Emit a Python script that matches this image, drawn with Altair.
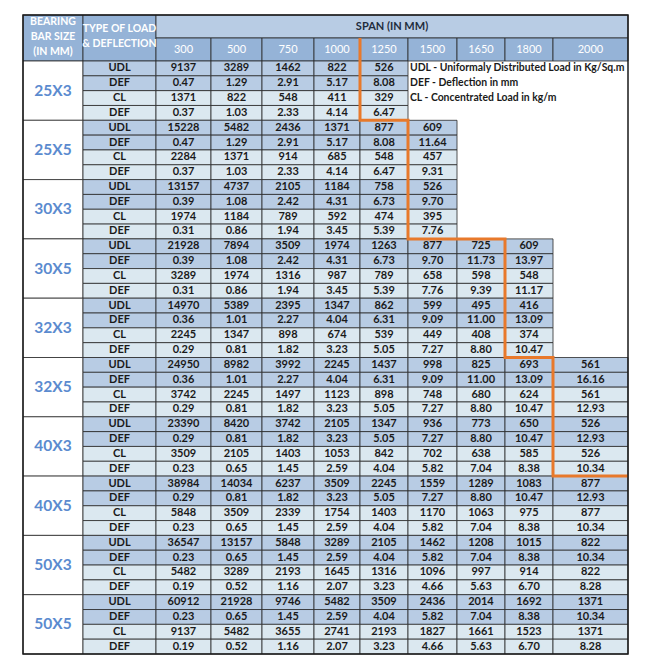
import altair as alt
import pandas as pd

# ---------------- data ----------------
spans = ["300", "500", "750", "1000", "1250", "1500", "1650", "1800", "2000"]
bar_sizes = ["25X3", "25X5", "30X3", "30X5", "32X3", "32X5", "40X3", "40X5", "50X3", "50X5"]
load_types = ["UDL", "DEF", "CL", "DEF"]

v_25x3 = [
    [9137, 3289, 1462, 822, 526],
    [0.47, 1.29, 2.91, 5.17, 8.08],
    [1371, 822, 548, 411, 329],
    [0.37, 1.03, 2.33, 4.14, 6.47],
]
v_25x5 = [
    [15228, 5482, 2436, 1371, 877, 609],
    [0.47, 1.29, 2.91, 5.17, 8.08, 11.64],
    [2284, 1371, 914, 685, 548, 457],
    [0.37, 1.03, 2.33, 4.14, 6.47, 9.31],
]
v_30x3 = [
    [13157, 4737, 2105, 1184, 758, 526],
    [0.39, 1.08, 2.42, 4.31, 6.73, 9.70],
    [1974, 1184, 789, 592, 474, 395],
    [0.31, 0.86, 1.94, 3.45, 5.39, 7.76],
]
v_30x5 = [
    [21928, 7894, 3509, 1974, 1263, 877, 725, 609],
    [0.39, 1.08, 2.42, 4.31, 6.73, 9.70, 11.73, 13.97],
    [3289, 1974, 1316, 987, 789, 658, 598, 548],
    [0.31, 0.86, 1.94, 3.45, 5.39, 7.76, 9.39, 11.17],
]
v_32x3 = [
    [14970, 5389, 2395, 1347, 862, 599, 495, 416],
    [0.36, 1.01, 2.27, 4.04, 6.31, 9.09, 11.00, 13.09],
    [2245, 1347, 898, 674, 539, 449, 408, 374],
    [0.29, 0.81, 1.82, 3.23, 5.05, 7.27, 8.80, 10.47],
]
v_32x5 = [
    [24950, 8982, 3992, 2245, 1437, 998, 825, 693, 561],
    [0.36, 1.01, 2.27, 4.04, 6.31, 9.09, 11.00, 13.09, 16.16],
    [3742, 2245, 1497, 1123, 898, 748, 680, 624, 561],
    [0.29, 0.81, 1.82, 3.23, 5.05, 7.27, 8.80, 10.47, 12.93],
]
v_40x3 = [
    [23390, 8420, 3742, 2105, 1347, 936, 773, 650, 526],
    [0.29, 0.81, 1.82, 3.23, 5.05, 7.27, 8.80, 10.47, 12.93],
    [3509, 2105, 1403, 1053, 842, 702, 638, 585, 526],
    [0.23, 0.65, 1.45, 2.59, 4.04, 5.82, 7.04, 8.38, 10.34],
]
v_40x5 = [
    [38984, 14034, 6237, 3509, 2245, 1559, 1289, 1083, 877],
    [0.29, 0.81, 1.82, 3.23, 5.05, 7.27, 8.80, 10.47, 12.93],
    [5848, 3509, 2339, 1754, 1403, 1170, 1063, 975, 877],
    [0.23, 0.65, 1.45, 2.59, 4.04, 5.82, 7.04, 8.38, 10.34],
]
v_50x3 = [
    [36547, 13157, 5848, 3289, 2105, 1462, 1208, 1015, 822],
    [0.23, 0.65, 1.45, 2.59, 4.04, 5.82, 7.04, 8.38, 10.34],
    [5482, 3289, 2193, 1645, 1316, 1096, 997, 914, 822],
    [0.19, 0.52, 1.16, 2.07, 3.23, 4.66, 5.63, 6.70, 8.28],
]
v_50x5 = [
    [60912, 21928, 9746, 5482, 3509, 2436, 2014, 1692, 1371],
    [0.23, 0.65, 1.45, 2.59, 4.04, 5.82, 7.04, 8.38, 10.34],
    [9137, 5482, 3655, 2741, 2193, 1827, 1661, 1523, 1371],
    [0.19, 0.52, 1.16, 2.07, 3.23, 4.66, 5.63, 6.70, 8.28],
]
group_values = [v_25x3, v_25x5, v_30x3, v_30x5, v_32x3,
                v_32x5, v_40x3, v_40x5, v_50x3, v_50x5]

# span at which the orange limit line sits (left edge) for the first groups
limit_span = ["1250", "1500", "1500", "1800", "1800", "2000", "2000"]

notes = [
    "UDL - Uniformaly Distributed Load in Kg/Sq.m",
    "DEF - Deflection in mm",
    "CL - Concentrated Load in kg/m",
]
bearing_head = ["BEARING", "BAR SIZE", "(IN MM)"]
type_head = ["TYPE OF LOAD", "& DEFLECTION"]
span_head = "SPAN (IN MM)"

# ---------------- layout ----------------
col_widths = [60, 73, 55, 51, 52, 46, 48, 49, 48, 48, 75]
head_h = 23
row_h = 14.825
FONT = "Lato"

xe = [0]
for w in col_widths:
    xe.append(xe[-1] + w)
W = xe[-1]
body_top = 2 * head_h
H = body_top + 4 * len(bar_sizes) * row_h

C_HEAD = "#95b3d7"
C_HEAD_L = "#b8cce4"
C_ROW_A = "#b8cce4"
C_ROW_B = "#dbe8f0"


def row_y(g, r):
    return body_top + (4 * g + r) * row_h


cells, vals, types, sizes = [], [], [], []
# header cells
cells.append(dict(x=xe[0], x2=xe[1], y=0, y2=body_top, fill=C_HEAD))
cells.append(dict(x=xe[1], x2=xe[2], y=0, y2=body_top, fill=C_HEAD))
cells.append(dict(x=xe[2], x2=xe[-1], y=0, y2=head_h, fill=C_HEAD_L))
span_lbl = []
for c, s in enumerate(spans):
    cells.append(dict(x=xe[2 + c], x2=xe[3 + c], y=head_h, y2=body_top, fill=C_HEAD))
    span_lbl.append(dict(x=(xe[2 + c] + xe[3 + c]) / 2, y=head_h * 1.5, text=s))

for g, (bs, gv) in enumerate(zip(bar_sizes, group_values)):
    cells.append(dict(x=xe[0], x2=xe[1], y=row_y(g, 0), y2=row_y(g, 4), fill="#ffffff"))
    sizes.append(dict(x=(xe[0] + xe[1]) / 2, y=(row_y(g, 0) + row_y(g, 4)) / 2, text=bs))
    for r, (lt, rv) in enumerate(zip(load_types, gv)):
        fill = C_ROW_A if r < 2 else C_ROW_B
        y0, y1 = row_y(g, r), row_y(g, r + 1)
        cells.append(dict(x=xe[1], x2=xe[2], y=y0, y2=y1, fill=fill))
        types.append(dict(x=(xe[1] + xe[2]) / 2, y=(y0 + y1) / 2, text=lt))
        for c, v in enumerate(rv):
            cells.append(dict(x=xe[2 + c], x2=xe[3 + c], y=y0, y2=y1, fill=fill))
            txt = f"{v:.2f}" if lt == "DEF" else f"{int(v)}"
            vals.append(dict(x=(xe[2 + c] + xe[3 + c]) / 2, y=(y0 + y1) / 2, text=txt))

note_rows = [dict(x=xe[2 + spans.index("1500")] + 2, y=(row_y(0, i) + row_y(0, i + 1)) / 2, text=t)
             for i, t in enumerate(notes)]

# header text lines
head_rows = []
for i, t in enumerate(bearing_head):
    head_rows.append(dict(x=(xe[0] + xe[1]) / 2, y=7 + i * 14.8, text=t))
for i, t in enumerate(type_head):
    head_rows.append(dict(x=(xe[1] + xe[2]) / 2, y=14 + i * 14.5, text=t))

# orange staircase path
path = []
x_first = xe[2 + spans.index(limit_span[0])]
path.append((x_first, head_h))
for g, ls in enumerate(limit_span):
    xl = xe[2 + spans.index(ls)]
    path.append((xl, row_y(g, 0)))
    path.append((xl, row_y(g, 4)))
path.append((W, row_y(len(limit_span) - 1, 4)))
path_df = pd.DataFrame([dict(x=p[0], y=p[1], o=i) for i, p in enumerate(path)])

xs = alt.Scale(domain=[0, W])
ys = alt.Scale(domain=[0, H], reverse=True)
X = lambda f="x": alt.X(f"{f}:Q", scale=xs, axis=None)
Y = lambda f="y": alt.Y(f"{f}:Q", scale=ys, axis=None)

cell_layer = alt.Chart(pd.DataFrame(cells)).mark_rect(
    stroke="#2a2a2a", strokeWidth=0.8
).encode(x=X(), x2="x2:Q", y=Y(), y2="y2:Q", fill=alt.Fill("fill:N", scale=None))


def text_layer(rows, **kw):
    return alt.Chart(pd.DataFrame(rows)).mark_text(font=FONT, baseline="middle", **kw).encode(
        x=X(), y=Y(), text="text:N")


val_layer = text_layer(vals, fontSize=11, fontWeight="bold", color="#1a1a1a")
type_layer = text_layer(types, fontSize=11, fontWeight="bold", color="#1a1a1a")
size_layer = text_layer(sizes, fontSize=15.5, fontWeight="bold", color="#5b8bcf")
span_layer = text_layer(span_lbl, fontSize=11, color="#ffffff")
note_layer = text_layer(note_rows, fontSize=10.4, fontWeight="bold", color="#1a1a1a", align="left")
head_layer = text_layer(head_rows, fontSize=10.5, fontWeight="bold", color="#ffffff")
span_title = text_layer([dict(x=(xe[2] + W) / 2, y=head_h / 2, text=span_head)],
                        fontSize=11, fontWeight="bold", color="#1f2d3d")

line_layer = alt.Chart(path_df).mark_line(color="#e8792b", strokeWidth=3).encode(
    x=X(), y=Y(), order="o:Q")

frame = alt.Chart(pd.DataFrame([dict(x=0, x2=W, y=0, y2=H)])).mark_rect(
    fill=None, stroke="#1a1a1a", strokeWidth=1.5
).encode(x=X(), x2="x2:Q", y=Y(), y2="y2:Q")

chart = alt.layer(
    cell_layer, val_layer, type_layer, size_layer, span_layer, note_layer,
    head_layer, span_title, line_layer, frame
).properties(
    width=W, height=H,
    padding={"left": 14, "top": 6, "right": 5, "bottom": 5},
).configure_view(stroke=None)

chart.save("out.html", embed_options={"renderer": "svg", "actions": False})
